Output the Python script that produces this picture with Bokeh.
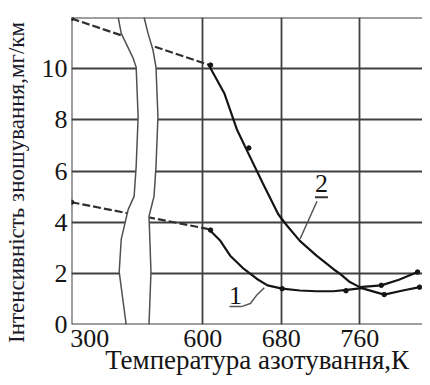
import math
from bokeh.plotting import figure
from bokeh.models import Range1d, FixedTicker, Label, Span
from bokeh.embed import file_html
from bokeh.resources import INLINE

# ---------------- data ----------------
x_ticks = [300, 600, 680, 760]
x_tick_labels = ["300", "600", "680", "760"]
y_ticks = [0, 2, 4, 6, 8, 10]

x_title = "Температура азотування,К"
y_title = "Інтенсивність зношування,мг/км"

# curve 1 (dashed part = interpolation across the axis break)
t1_dash = [300, 606]
y1_dash = [4.78, 3.73]
t1 = [606, 618, 628, 642, 655, 666, 681, 699, 716, 733, 747, 762, 785, 804, 821]
y1 = [3.73, 3.27, 2.69, 2.17, 1.79, 1.53, 1.40, 1.33, 1.30, 1.30, 1.35, 1.42, 1.17, 1.33, 1.46]
t1_pts = [300, 608, 681, 746, 785, 821]
y1_pts = [4.78, 3.69, 1.40, 1.32, 1.17, 1.46]

# curve 2
t2_dash = [300, 606]
y2_dash = [11.96, 10.15]
t2 = [606, 622, 635, 647, 661, 677, 686, 699, 716, 733, 740, 750, 760, 782, 800, 819]
y2 = [10.15, 9.04, 7.61, 6.65, 5.54, 4.31, 3.86, 3.27, 2.69, 2.17, 1.98, 1.66, 1.46, 1.53, 1.75, 2.05]
t2_pts = [300, 608, 647, 782, 819]
y2_pts = [11.96, 10.14, 6.9, 1.53, 2.05]

curve_names = ["1", "2"]

# ---------------- broken x axis mapping ----------------
T_LOW, T_BREAK = 300, 600
BREAK_SPAN = 133.7          # display units occupied by 300..600


def tx(t):
    if t >= T_BREAK:
        return t
    return T_BREAK - (T_BREAK - t) / (T_BREAK - T_LOW) * BREAK_SPAN


def txs(ts):
    return [tx(t) for t in ts]


X0 = tx(T_LOW)
X1 = 824.0
Y0, Y1 = 0, 12
LABEL300_POS = 485

FONT = "'Liberation Serif', 'Times New Roman', Times, 'DejaVu Serif', serif"
INK = "#151515"
GRID = "#404040"
NBSP = "\u00a0"

p = figure(width=422, height=377, x_range=Range1d(X0, X1), y_range=Range1d(Y0, Y1),
           output_backend="svg", toolbar_location=None,
           min_border_left=70, min_border_right=0, min_border_top=17, min_border_bottom=51)
p.outline_line_color = None
p.background_fill_color = "white"
p.border_fill_color = "white"

# axes
xt_pos = [LABEL300_POS] + x_ticks[1:]
p.xaxis.ticker = FixedTicker(ticks=xt_pos)
p.xaxis.major_label_overrides = {pos: lab for pos, lab in zip(xt_pos, x_tick_labels)}
p.yaxis.ticker = FixedTicker(ticks=y_ticks)
for ax in (p.xaxis, p.yaxis):
    ax.major_tick_line_color = None
    ax.minor_tick_line_color = None
    ax.major_tick_out = 0
    ax.major_tick_in = 0
    ax.minor_tick_out = 0
    ax.minor_tick_in = 0
    ax.axis_line_color = None
    ax.major_label_text_font = FONT
    ax.major_label_text_font_size = "26px"
    ax.major_label_text_color = INK
    ax.axis_label_text_font = FONT
    ax.axis_label_text_font_style = "normal"
    ax.axis_label_text_color = INK
p.xaxis.major_label_standoff = 5
p.yaxis.major_label_standoff = 4

# non-breaking-space padding only nudges the centred titles to the original's place
p.xaxis.axis_label = NBSP * 3 + x_title
p.xaxis.axis_label_text_font_size = "27px"
p.xaxis.axis_label_standoff = -5
p.yaxis.axis_label = y_title + NBSP * 4
p.yaxis.axis_label_text_font_size = "23px"
p.yaxis.axis_label_standoff = 10
p.yaxis.axis_label_text_color = "#1a1a2a"

p.xgrid.ticker = FixedTicker(ticks=x_ticks[1:])
p.ygrid.ticker = FixedTicker(ticks=y_ticks[1:])
for g in (p.xgrid, p.ygrid):
    g.grid_line_color = GRID
    g.grid_line_width = 1.8

# frame lines: bottom, left, top
p.add_layout(Span(location=Y0, dimension="width", line_color=GRID, line_width=2))
p.add_layout(Span(location=X0, dimension="height", line_color=GRID, line_width=2))
p.add_layout(Span(location=Y1, dimension="width", line_color=GRID, line_width=2))

# curves
for td, yd, tc, yc, tp, yp in ((t1_dash, y1_dash, t1, y1, t1_pts, y1_pts),
                               (t2_dash, y2_dash, t2, y2, t2_pts, y2_pts)):
    p.line(txs(td), yd, line_color="#303030", line_width=2.2, line_dash="8 3")
    p.line(txs(tc), yc, line_color=INK, line_width=2.2)
    p.scatter(txs(tp), yp, size=4.5, color=INK)

# axis-break band (decoration)
band_left_x = [513.9, 517.0, 529.1, 532.2, 534.2, 532.2, 530.1, 524.1, 517.0, 514.9, 522.0]
band_left_y = [12.0, 11.38, 10.41, 10.06, 8.12, 6.17, 5.01, 4.50, 3.34, 2.06, 0.0]
band_right_x = [540.3, 544.3, 549.4, 552.4, 554.4, 552.4, 550.4, 545.3, 547.3, 545.3]
band_right_y = [12.0, 11.38, 10.72, 10.06, 8.12, 6.17, 5.01, 4.23, 2.06, 0.0]
p.patch(band_left_x + band_right_x[::-1], band_left_y + band_right_y[::-1],
        fill_color="white", line_color=None)
p.line(band_left_x, band_left_y, line_color="#505050", line_width=1.5)
p.line(band_right_x, band_right_y, line_color="#505050", line_width=1.5)

# curve labels with underline and leader
p.add_layout(Label(x=633.4, y=1.12, text=curve_names[0], text_align="center",
                   text_baseline="alphabetic", text_font=FONT, text_font_size="26px",
                   text_color=INK))
p.line([627.3, 639.5], [0.70, 0.70], line_color="#555555", line_width=1.5)
p.line([639.5, 648.6, 654.7, 662.8], [0.70, 0.82, 1.13, 1.44], line_color="#555555", line_width=1.5)

p.add_layout(Label(x=721.0, y=5.50, text=curve_names[1], text_align="center",
                   text_baseline="alphabetic", text_font=FONT, text_font_size="26px",
                   text_color=INK))
p.line([714.4, 727.6], [4.97, 4.97], line_color="#333333", line_width=2)
p.line([716.5, 699.2], [4.82, 3.34], line_color="#555555", line_width=1.5)

open("out.html", "w").write(file_html(p, INLINE))
